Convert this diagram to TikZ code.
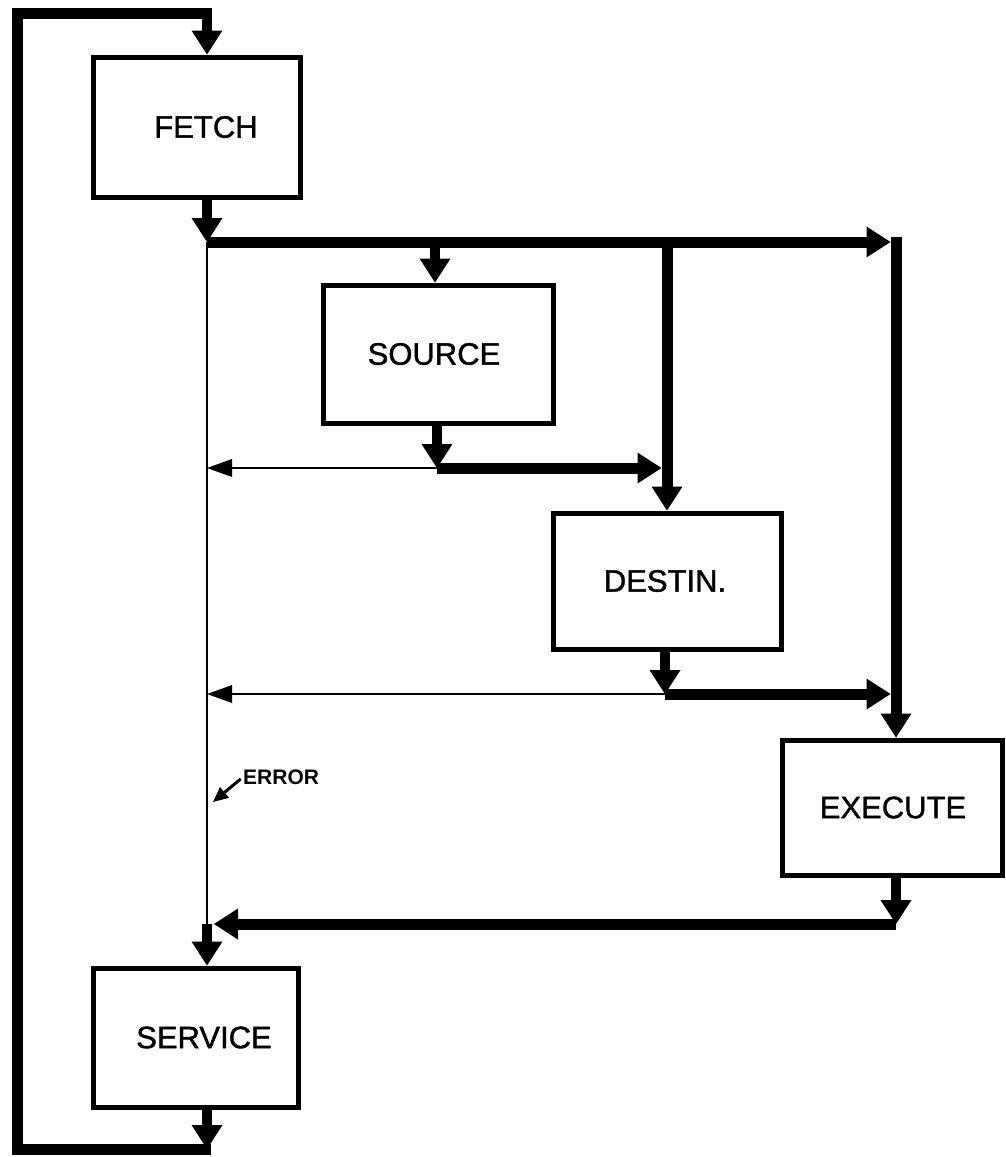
\documentclass[tikz,border=0pt]{standalone}
\usepackage{fontspec}
\setmainfont{Liberation Sans}
\newfontfamily\lblfont{Liberation Sans}[FakeBold=1.2]
\usetikzlibrary{arrows.meta}
\begin{document}
\begin{tikzpicture}[x=1pt,y=-1pt,
  box/.style={draw, line width=5pt, inner sep=0pt},
  lbl/.style={font=\lblfont\fontsize{31}{31}\selectfont, inner sep=0pt},
  thickln/.style={line width=11pt},
  thinln/.style={line width=2.5pt},
  shaft/.style={line width=10pt},
  bigtip/.style={-{Triangle[length=24pt,width=31pt,line width=0pt]}},
  smalltip/.style={-{Triangle[length=25pt,width=18pt,line width=0pt]}},
]
\useasboundingbox[fill=white] (0,0) rectangle (1006,1157);

% boxes
\node[box, minimum width=207pt, minimum height=140pt,
      label={[lbl, xshift=9.5pt]center:FETCH}] (fetch) at (196.5,127) {};
\node[box, minimum width=230pt, minimum height=138pt,
      label={[lbl, xshift=-4pt]center:SOURCE}] (source) at (438,354) {};
\node[box, minimum width=228pt, minimum height=136pt,
      label={[lbl, xshift=-2pt]center:DESTIN.}] (destin) at (667,581) {};
\node[box, minimum width=220pt, minimum height=135pt,
      label={[lbl, xshift=1pt]center:EXECUTE}] (execute) at (892,807.5) {};
\node[box, minimum width=205pt, minimum height=139pt,
      label={[lbl, xshift=8.5pt]center:SERVICE}] (service) at (195.5,1037.5) {};

% junctions
\coordinate (j1) at (207,242);
\coordinate (j2) at (896,242);
\coordinate (j2t) at (896,236.5);
\coordinate (j2e) at (890.5,242);
\coordinate (j3) at (435,242);
\coordinate (j4) at (667,242);
\coordinate (j5) at (437,468);
\coordinate (j5e) at (661.5,468);
\coordinate (j6) at (665,694);
\coordinate (j6e) at (890.5,694);
\coordinate (j7) at (896,924);
\coordinate (j7e) at (214,924);
\coordinate (j8) at (207,924);
\coordinate (j9) at (207,1149);
\coordinate (l0) at (211,1149);
\coordinate (l1) at (17,1149);
\coordinate (l2) at (17,13);
\coordinate (l3) at (207,13);
\coordinate (l4) at (212,13);
\coordinate (e2) at (213,802);

% short arrows
\draw[shaft,bigtip] (l3) -- (l3 |- fetch.north);
\draw[shaft,bigtip] (j1 |- fetch.south) -- (j1);
\draw[shaft,bigtip] (j3) -- (j3 |- source.north);
\draw[shaft,bigtip] (j5 |- source.south) -- (j5);
\draw[shaft,bigtip] (j6 |- destin.south) -- (j6);
\draw[shaft,bigtip] (j7 |- execute.south) -- (j7);
\draw[shaft,bigtip] (j8) -- (j8 |- service.north);
\draw[shaft,bigtip] (j9 |- service.south) -- (j9);

% thin lines
\draw[thinln] (j1) -- (j8);
\draw[thinln,smalltip] (j5) -- (j1 |- j5);
\draw[thinln,smalltip] (j6) -- (j1 |- j6);

% thick lines
\draw[thickln,bigtip] (j1) -- (j2e);
\draw[thickln,bigtip] (j2t) -- (j2 |- execute.north);
\draw[thickln,bigtip] (j4) -- (j4 |- destin.north);
\draw[thickln,bigtip] (j5) -- (j5e);
\draw[thickln,bigtip] (j6) -- (j6e);
\draw[thickln,bigtip] (j7) -- (j7e);
\draw[thickln,line join=miter] (l0) -- (l1) -- (l2) -- (l4);

% error label
\node[font=\bfseries\fontsize{21}{21}\selectfont, anchor=west, inner sep=0pt] (err) at (243,777) {ERROR};
\draw[line width=3pt, shorten <=3pt, -{Triangle[length=15pt,width=14pt,line width=0pt]}] (err.west) -- (e2);
\end{tikzpicture}
\end{document}
